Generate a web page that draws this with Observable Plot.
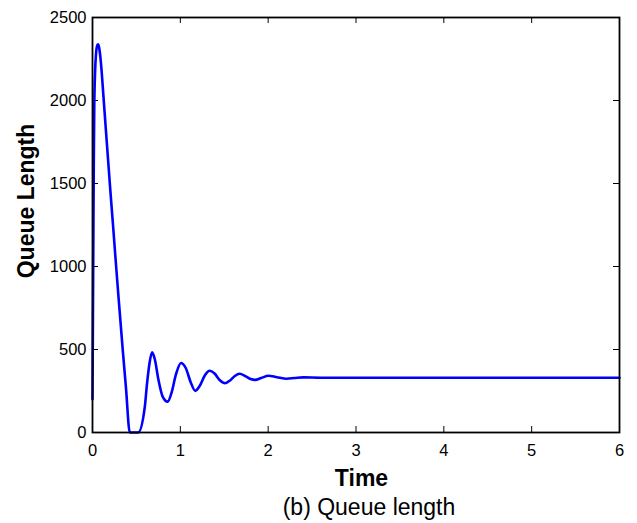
<!DOCTYPE html>
<html>
<head>
<meta charset="utf-8">
<script src="https://cdn.jsdelivr.net/npm/d3@7"></script>
<script src="https://cdn.jsdelivr.net/npm/@observablehq/plot@0.6"></script>
<style>
  body { margin: 0; background: #fff; font-family: "Liberation Sans", Arial, sans-serif; }
  #caption { margin-left: 101px; width: 536px; text-align: center; font-size: 23px; line-height: 28px; color: #000; }
</style>
</head>
<body>
<div id="chart"></div>
<div id="caption">(b) Queue length</div>
<script>
const time = [0, 0.005, 0.01, 0.015, 0.02, 0.03, 0.04, 0.05, 0.062, 0.075, 0.09, 0.105, 0.12, 0.15, 0.2, 0.23, 0.27, 0.3, 0.345, 0.38, 0.425,
  0.52, 0.595, 0.62, 0.65, 0.678, 0.71, 0.75, 0.8, 0.856, 0.9, 0.95, 1.008, 1.06, 1.12, 1.17, 1.22, 1.28, 1.333, 1.39, 1.45, 1.511,
  1.57, 1.62, 1.674, 1.74, 1.8, 1.852, 1.92, 2.003, 2.1, 2.21, 2.3, 2.4, 2.6, 2.8, 3.0, 3.5, 4.0, 4.5, 5.0, 5.5, 6.0];
const queue = [200, 700, 1200, 1650, 1950, 2180, 2280, 2325, 2338, 2320, 2260, 2170, 2060, 1840, 1480, 1274, 994, 790, 493, 276, 0,
  0, 152, 290, 420, 483, 440, 320, 215, 186, 240, 350, 419, 390, 300, 251, 280, 345, 372, 355, 315, 297,
  315, 340, 354, 340, 322, 317, 328, 342, 333, 324, 328, 332, 330, 330, 330, 330, 330, 330, 330, 330, 330];
const xTicks = [0, 1, 2, 3, 4, 5, 6];
const yTicks = [0, 500, 1000, 1500, 2000, 2500];
const xInner = [1, 2, 3, 4, 5];
const yInner = [500, 1000, 1500, 2000];

const data = time.map((t, i) => ({t, q: queue[i]}));

const W = 637, H = 493;
const mL = 92, mR = 18, mT = 17, mB = H - 432;
const pw = W - mL - mR, ph = H - mT - mB;
const tk = 6;

const plot = Plot.plot({
  width: W,
  height: H,
  marginLeft: mL,
  marginRight: mR,
  marginTop: mT,
  marginBottom: mB,
  style: {fontFamily: "Liberation Sans, Arial, sans-serif", color: "#000", background: "#fff"},
  x: {domain: [0, 6]},
  y: {domain: [0, 2500]},
  marks: [
    Plot.axisX(xTicks, {tickSize: 0, tickPadding: 12, fontSize: 16.5, label: null, tickFormat: d => String(d)}),
    Plot.axisY(yTicks, {tickSize: 0, tickPadding: 6, fontSize: 16.5, label: null, tickFormat: d => String(d)}),
    Plot.ruleX(xInner, {x: d => d, insetTop: ph - tk, stroke: "#000", strokeWidth: 1}),
    Plot.ruleX(xInner, {x: d => d, insetBottom: ph - tk, stroke: "#000", strokeWidth: 1}),
    Plot.ruleY(yInner, {y: d => d, insetRight: pw - tk, stroke: "#000", strokeWidth: 1}),
    Plot.ruleY(yInner, {y: d => d, insetLeft: pw - tk, stroke: "#000", strokeWidth: 1}),
    Plot.line(data, {x: "t", y: "q", stroke: "#0000ff", strokeWidth: 2.6, curve: "monotone-x"}),
    Plot.frame({stroke: "#000", strokeWidth: 1.8}),
    Plot.text(["Time"], {frameAnchor: "bottom", textAnchor: "middle", dx: 5.5, dy: 53, fontSize: 23, fontWeight: "bold", fill: "#000"}),
    Plot.text(["Queue Length"], {frameAnchor: "left", textAnchor: "middle", rotate: -90, dx: -66, dy: -24, fontSize: 23, fontWeight: "bold", fill: "#000"})
  ]
});
document.getElementById("chart").appendChild(plot);
</script>
</body>
</html>
